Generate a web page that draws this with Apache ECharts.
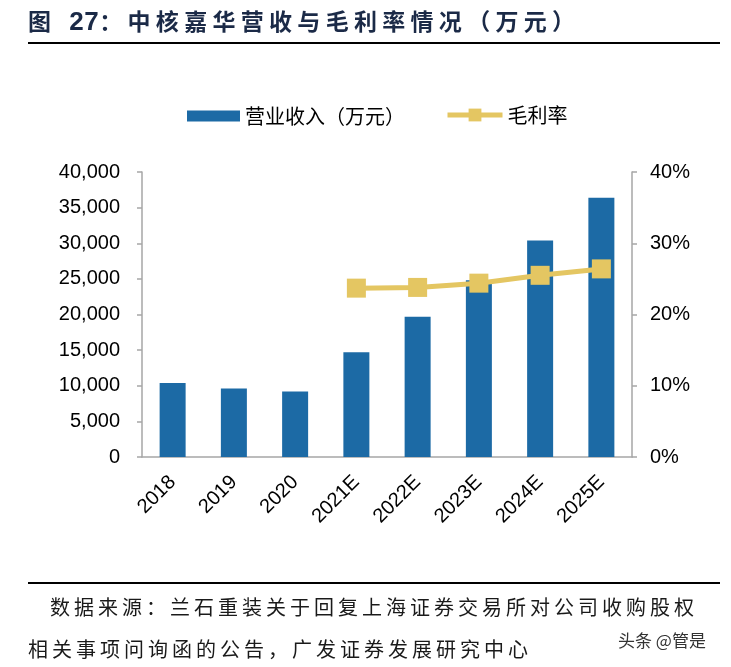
<!DOCTYPE html>
<html>
<head>
<meta charset="utf-8">
<script src="https://cdn.jsdelivr.net/npm/echarts@6/dist/echarts.min.js"></script>
<style>
  html, body { margin: 0; padding: 0; background: #fff; }
  #wrap { position: relative; width: 731px; height: 667px; background: #fff; overflow: hidden; }
  #chart { position: absolute; left: 0; top: 0; width: 731px; height: 667px; }
  .title { position: absolute; left: 28px; top: 7px; font-family: "Noto Sans CJK SC", sans-serif; font-weight: 700; font-size: 23px; line-height: 26px; color: #1b2a47; letter-spacing: 5.3px; white-space: nowrap; }
  .title .num { font-family: "Liberation Sans", Arial, sans-serif; font-weight: 700; font-size: 26px; letter-spacing: 0.5px; margin-left: 13px; }
  .rule { position: absolute; left: 28px; width: 692px; height: 2px; background: #000; }
  .foot { position: absolute; font-family: "Noto Sans CJK SC", sans-serif; font-size: 20px; line-height: 22px; color: #1a1a1a; letter-spacing: 4px; white-space: nowrap; }
  .wm { position: absolute; left: 618px; top: 630px; font-family: "Noto Sans CJK SC", sans-serif; font-size: 17px; line-height: 20px; color: #333; white-space: nowrap; }
</style>
</head>
<body>
<div id="wrap">
  <div id="chart"></div>
  <div class="title">图<span class="num">27</span>：中核嘉华营收与毛利率情况（万元）</div>
  <div class="rule" style="top:42px"></div>
  <div class="rule" style="top:582px"></div>
  <div class="foot" style="left:50px; top:596px">数据来源：兰石重装关于回复上海证券交易所对公司收购股权</div>
  <div class="foot" style="left:28px; top:638px">相关事项问询函的公告，广发证券发展研究中心</div>
  <div class="wm">头条 @管是</div>
</div>
<script>
const categories = ['2018', '2019', '2020', '2021E', '2022E', '2023E', '2024E', '2025E'];
const revenue = [10400, 9600, 9200, 14700, 19700, 24800, 30400, 36400];
const grossMargin = [null, null, null, 23.7, 23.8, 24.4, 25.5, 26.4];
const seriesNames = ['营业收入（万元）', '毛利率'];

const chart = echarts.init(document.getElementById('chart'));
const axisColor = '#a6a6a6';
const barColor = '#1c6aa5';
const lineColor = '#e4c662';
const labelFont = { fontFamily: 'Liberation Sans, Arial, sans-serif', fontSize: 20, color: '#000' };
const legendText = { fontFamily: 'Noto Sans CJK SC, sans-serif', fontSize: 20, color: '#000' };

chart.setOption({
  animation: false,
  backgroundColor: 'transparent',
  legend: [
    {
      left: 187,
      top: 106,
      padding: 0,
      itemWidth: 53,
      itemHeight: 11,
      textStyle: legendText,
      data: [{ name: seriesNames[0], icon: 'rect' }]
    },
    {
      left: 445,
      top: 105,
      padding: 0,
      itemWidth: 55,
      itemHeight: 16,
      textStyle: legendText,
      lineStyle: { width: 5 },
      data: [{ name: seriesNames[1] }]
    }
  ],
  grid: { left: 142, right: 99, top: 172, bottom: 210, containLabel: false },
  xAxis: {
    type: 'category',
    data: categories,
    axisLine: { lineStyle: { color: axisColor, width: 1.5 } },
    axisTick: { show: false },
    axisLabel: Object.assign({ rotate: 45, margin: 22, interval: 0 }, labelFont)
  },
  yAxis: [
    {
      type: 'value',
      min: 0, max: 40000, interval: 5000,
      splitLine: { show: false },
      axisLine: { show: true, lineStyle: { color: axisColor, width: 1.5 } },
      axisTick: { show: true, length: 5, lineStyle: { color: axisColor, width: 1.5 } },
      axisLabel: Object.assign({ margin: 22, formatter: v => v.toLocaleString('en-US') }, labelFont)
    },
    {
      type: 'value',
      min: 0, max: 40, interval: 10,
      position: 'right',
      splitLine: { show: false },
      axisLine: { show: true, lineStyle: { color: axisColor, width: 1.5 } },
      axisTick: { show: true, length: 5, lineStyle: { color: axisColor, width: 1.5 } },
      axisLabel: Object.assign({ margin: 18, formatter: '{value}%' }, labelFont)
    }
  ],
  series: [
    {
      name: seriesNames[0],
      type: 'bar',
      data: revenue,
      barWidth: 26,
      itemStyle: { color: barColor }
    },
    {
      name: seriesNames[1],
      type: 'line',
      yAxisIndex: 1,
      data: grossMargin,
      symbol: 'rect',
      symbolSize: 19,
      lineStyle: { color: lineColor, width: 5 },
      itemStyle: { color: lineColor },
      connectNulls: false
    }
  ]
});
</script>
</body>
</html>
